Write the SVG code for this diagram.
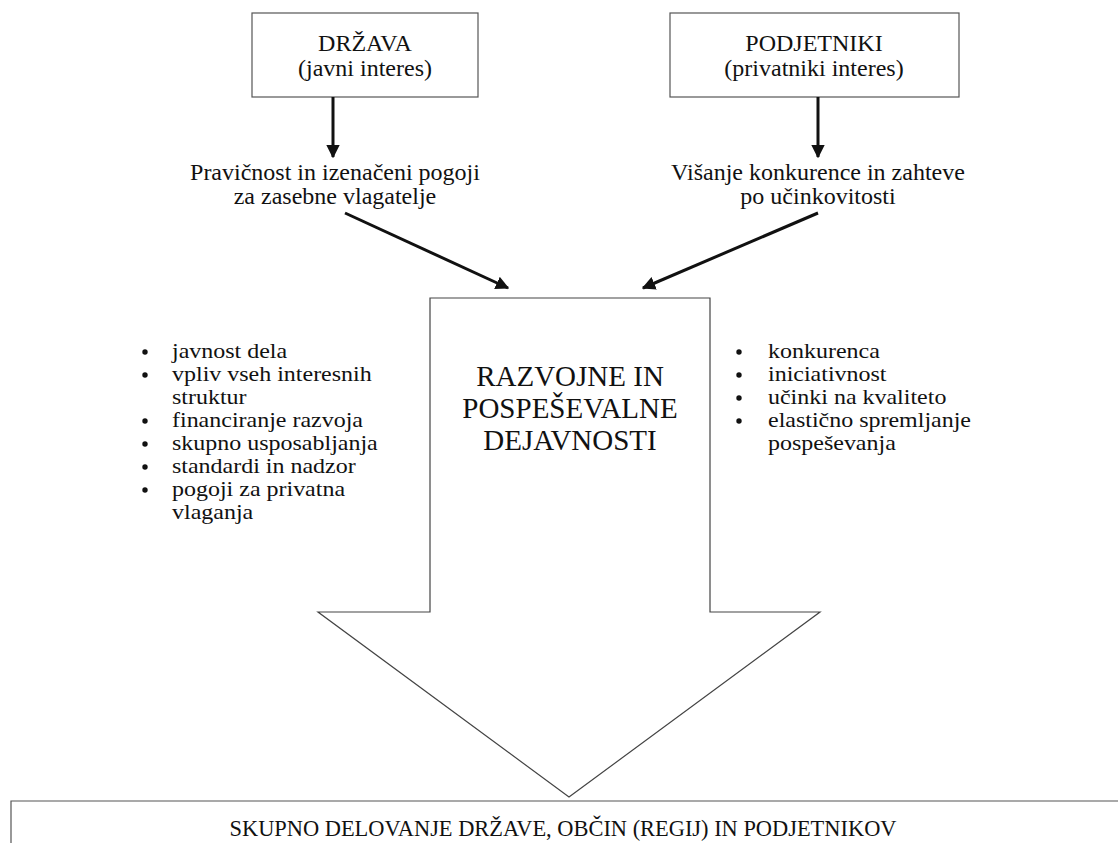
<svg xmlns="http://www.w3.org/2000/svg" width="1118" height="843" viewBox="0 0 1118 843" font-family="Liberation Serif, Times New Roman, DejaVu Serif, serif">
  <style>
    text { font-family: 'Liberation Serif', 'Times New Roman', 'DejaVu Serif', serif; fill: #111; }
    .t { font-size: 24px; }
    .l { font-size: 22px; }
    .c { text-anchor: middle; }
    .title { font-size: 29px; text-anchor: middle; }
    .box { fill: #fff; stroke: #555; stroke-width: 1.2; }
    .thick { stroke: #111; stroke-width: 3; fill: none; }
    .bigarrow { fill: #fff; stroke: #444; stroke-width: 1.2; }
    .dot { fill: #111; }
  </style>
  <defs>
    <marker id="head" viewBox="0 0 10 10" refX="9" refY="5" markerWidth="4.5" markerHeight="4.5" orient="auto" markerUnits="strokeWidth">
      <path d="M0,0 L10,5 L0,10 z" fill="#111"/>
    </marker>
  </defs>
  <rect width="1118" height="843" fill="#fff"/>

  <g id="drzava">
    <rect class="box" x="252" y="13" width="226" height="84"/>
    <text class="t c" x="365" y="51">DRŽAVA</text>
    <text class="t c" x="365" y="76">(javni interes)</text>
  </g>

  <g id="podjetniki">
    <rect class="box" x="670" y="13" width="289" height="84"/>
    <text class="t c" x="814" y="51">PODJETNIKI</text>
    <text class="t c" x="814" y="76">(privatniki interes)</text>
  </g>

  <g id="pravicnost">
    <text class="t c" x="335" y="180">Pravičnost in izenačeni pogoji</text>
    <text class="t c" x="335" y="204">za zasebne vlagatelje</text>
  </g>

  <g id="visanje">
    <text class="t c" x="818" y="180">Višanje konkurence in zahteve</text>
    <text class="t c" x="818" y="204">po učinkovitosti</text>
  </g>

  <g id="dejavnosti">
    <polygon class="bigarrow" points="430,298 710,298 710,612 820,612 569,797 318,612 430,612"/>
    <text class="title" x="570" y="386">RAZVOJNE IN</text>
    <text class="title" x="570" y="418">POSPEŠEVALNE</text>
    <text class="title" x="570" y="450">DEJAVNOSTI</text>
  </g>

  <!-- bullet lists: slightly widened lettering, tight single spacing -->
  <g id="javni-seznam">
    <circle class="dot" cx="145" cy="352" r="2.7"/>
    <circle class="dot" cx="145" cy="375" r="2.7"/>
    <circle class="dot" cx="145" cy="421" r="2.7"/>
    <circle class="dot" cx="145" cy="444" r="2.7"/>
    <circle class="dot" cx="145" cy="467" r="2.7"/>
    <circle class="dot" cx="145" cy="490" r="2.7"/>
    <g class="l" transform="translate(172 0) scale(1.09 1) translate(-172 0)">
      <text x="172" y="358">javnost dela</text>
      <text x="172" y="381">vpliv vseh interesnih</text>
      <text x="172" y="404">struktur</text>
      <text x="172" y="427">financiranje razvoja</text>
      <text x="172" y="450">skupno usposabljanja</text>
      <text x="172" y="473">standardi in nadzor</text>
      <text x="172" y="496">pogoji za privatna</text>
      <text x="172" y="519">vlaganja</text>
    </g>
  </g>

  <g id="zasebni-seznam">
    <circle class="dot" cx="739" cy="352" r="2.7"/>
    <circle class="dot" cx="739" cy="375" r="2.7"/>
    <circle class="dot" cx="739" cy="398" r="2.7"/>
    <circle class="dot" cx="739" cy="421" r="2.7"/>
    <g class="l" transform="translate(768 0) scale(1.09 1) translate(-768 0)">
      <text x="768" y="358">konkurenca</text>
      <text x="768" y="381">iniciativnost</text>
      <text x="768" y="404">učinki na kvaliteto</text>
      <text x="768" y="427">elastično spremljanje</text>
      <text x="768" y="450">pospeševanja</text>
    </g>
  </g>

  <g id="skupno">
    <path d="M11,843 L11,801 L1118,801" fill="none" stroke="#555" stroke-width="1.2"/>
    <text class="t c" x="563" y="836" textLength="667" lengthAdjust="spacingAndGlyphs">SKUPNO DELOVANJE DRŽAVE, OBČIN (REGIJ) IN PODJETNIKOV</text>
  </g>

  <g id="connectors">
    <line class="thick" x1="333" y1="97" x2="333" y2="157" marker-end="url(#head)"/>
    <line class="thick" x1="818" y1="97" x2="818" y2="157" marker-end="url(#head)"/>
    <line class="thick" x1="345" y1="213" x2="508" y2="288" marker-end="url(#head)"/>
    <line class="thick" x1="818" y1="213" x2="643" y2="288" marker-end="url(#head)"/>
  </g>
</svg>
